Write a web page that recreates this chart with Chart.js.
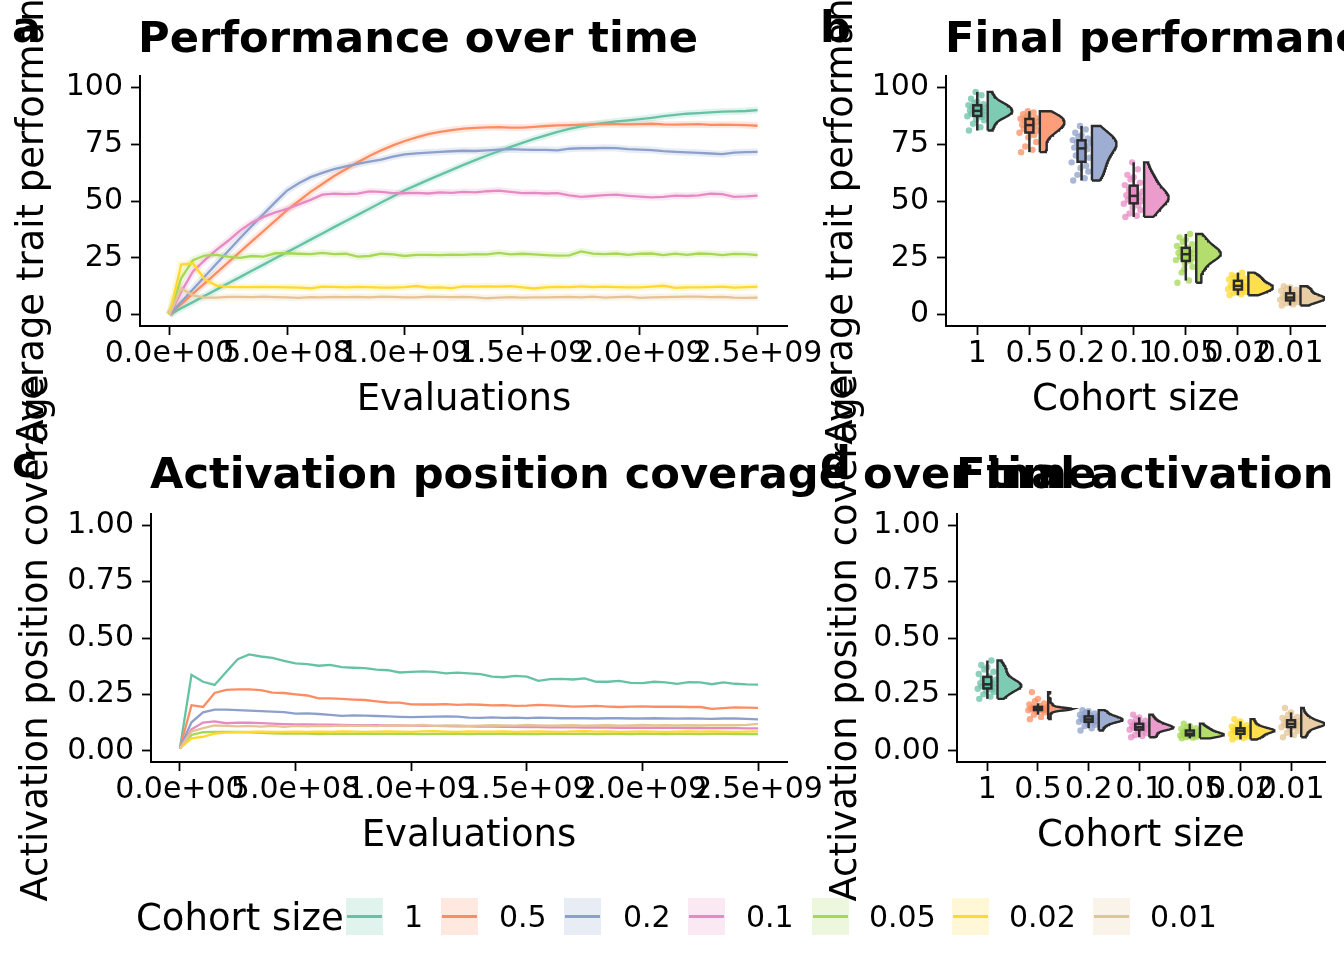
<!DOCTYPE html>
<html><head><meta charset="utf-8">
<script src="https://cdn.jsdelivr.net/npm/chart.js@4.4.1/dist/chart.umd.min.js"></script>
<style>
html,body{margin:0;padding:0;background:#fff;}
#wrap{position:relative;width:1344px;height:960px;overflow:hidden;background:#fff;font-family:'DejaVu Sans',sans-serif;}
canvas{position:absolute;left:0;top:0;}
.t{position:absolute;white-space:nowrap;line-height:1;color:#000;}
.tag{font-size:43.2px;font-weight:bold;}
.ttl{font-size:43.2px;font-weight:bold;}
.ax{font-size:37px;transform:translateX(-50%);}
.yt{font-size:37px;transform:translate(-50%,-50%) rotate(-90deg);}
.key{position:absolute;top:898px;width:37px;height:37px;}
.key i{position:absolute;left:1px;right:1px;top:17px;height:3px;display:block;}
.lab{font-size:30px;top:902px;}
</style></head>
<body><div id="wrap">
<canvas id="ca" width="1344" height="960"></canvas>
<canvas id="cb" width="1344" height="960"></canvas>
<canvas id="cc" width="1344" height="960"></canvas>
<canvas id="cd" width="1344" height="960"></canvas>

<div class="t yt" style="left:30px;top:200px;">Average trait performance</div>
<div class="t yt" style="left:839px;top:200px;">Average trait performance</div>
<div class="t yt" style="left:33.5px;top:638px;">Activation position coverage</div>
<div class="t yt" style="left:842.5px;top:638px;">Activation position coverage</div>

<div class="t ttl" style="left:138px;top:15.5px;">Performance over time</div>
<div class="t ttl" style="left:945px;top:15.5px;">Final performance</div>
<div class="t ttl" style="left:150px;top:451.5px;">Activation position coverage over time</div>
<div class="t ttl" style="left:956px;top:451.5px;">Final activation position coverage</div>

<div class="t tag" style="left:12px;top:5.5px;">a</div>
<div class="t tag" style="left:820px;top:5.5px;">b</div>
<div class="t tag" style="left:12px;top:440.5px;">c</div>
<div class="t tag" style="left:820px;top:440.5px;">d</div>

<div class="t ax" style="left:464px;top:379px;">Evaluations</div>
<div class="t ax" style="left:1136px;top:379px;">Cohort size</div>
<div class="t ax" style="left:469px;top:815px;">Evaluations</div>
<div class="t ax" style="left:1141px;top:815px;">Cohort size</div>

<div id="legend"></div>
</div>
<script>
// ---------------- DATA ----------------
const cohortSizes = ['1','0.5','0.2','0.1','0.05','0.02','0.01'];
const COLORS = ['#66C2A5','#FC8D62','#8DA0CB','#E78AC3','#A6D854','#FFD92F','#E5C494'];

const evaluations = [0,5e7,1e8,1.5e8,2e8,2.5e8,3e8,3.5e8,4e8,4.5e8,5e8,5.5e8,6e8,6.5e8,7e8,7.5e8,8e8,8.5e8,9e8,9.5e8,
  1e9,1.05e9,1.1e9,1.15e9,1.2e9,1.25e9,1.3e9,1.35e9,1.4e9,1.45e9,1.5e9,1.55e9,1.6e9,1.65e9,1.7e9,1.75e9,1.8e9,1.85e9,1.9e9,1.95e9,
  2e9,2.05e9,2.1e9,2.15e9,2.2e9,2.25e9,2.3e9,2.35e9,2.4e9,2.45e9,2.5e9];

const evalTickValues = [0,5e8,1e9,1.5e9,2e9,2.5e9];
const evalTickLabels = ['0.0e+00','5.0e+08','1.0e+09','1.5e+09','2.0e+09','2.5e+09'];
const perfTickValues = [0,25,50,75,100];
const perfTickLabels = ['0','25','50','75','100'];
const covTickValues = [0,0.25,0.5,0.75,1];
const covTickLabels = ['0.00','0.25','0.50','0.75','1.00'];

// Panel a: average trait performance over time
const perf_1 = [0,2.8,5.5,8.3,11,13.8,16.5,19.3,22,24.8,27.5,30.2,33,35.7,38.5,41.2,43.9,46.6,49.3,52,54.7,57,59.3,61.5,63.7,65.9,68,70,71.9,73.8,75.6,77.3,78.9,80.4,81.7,82.8,83.7,84.4,85,85.5,86,86.6,87.3,87.9,88.4,88.7,89,89.3,89.4,89.6,90];
const perf_05 = [0,4.6,9.2,13.8,18.4,23,27.6,32.2,36.8,41.4,46,50,54,57.5,61,64,67,69.8,72.3,74.5,76.4,78,79.4,80.4,81.2,81.8,82.2,82.4,82.5,82.3,82.3,82.6,83,83.3,83.4,83.6,83.7,83.9,83.8,83.7,83.8,84,83.7,83.6,83.7,83.8,83.5,83.6,83.5,83.4,83.1];
const perf_02 = [0,5.6,11.2,16.8,22.4,28,33.6,39,44.3,49.5,54.6,57.8,60.5,62.4,64,65.2,66.3,67.3,68.2,69.5,70.5,71,71.3,71.6,71.9,72.1,72,72.3,72.6,72.8,72.6,72.5,72.5,72.3,73,73.2,73.2,73.4,73.3,72.8,72.6,72.4,71.9,71.6,71.4,71.2,70.9,70.6,71.3,71.5,71.6];
const perf_01 = [0,10,19,24,28.5,32.5,37,40.5,43,45,46.5,48.5,50.5,52.8,53.2,53,53.2,54.2,54,53.5,53.4,53.6,53.3,53.8,53.6,54,53.8,54.3,54.6,54,53.5,53.6,53.3,53.5,52.5,51.8,52.2,52.6,52.8,52.3,51.9,51.6,51.8,52.4,52.2,52.5,53.2,53,51.8,52,52.4];
const perf_005 = [0,16,24,26,26.3,25.5,25,25.8,25.5,27,27,26.8,26.6,27.2,26.6,26.8,25.5,25.8,26.8,26.5,25.8,26.3,26.3,26.2,26.4,26.3,26.6,26.5,27.2,26.5,26.8,26.5,26.2,26,26.1,27.8,26.8,26.6,26.9,26.3,26.8,26.9,26.2,26.8,26.3,26.9,26.7,26.2,26.7,26.6,26.2];
const perf_002 = [0,22,22.6,15.5,12.8,12.2,12.1,12.1,12.2,12.1,12,11.9,11.6,12.3,12.2,12,12.2,12.1,11.9,11.9,12.1,12.6,11.9,12,11.7,12.4,12.3,12.4,12.3,12.5,12,11.5,12,12.2,12.1,12.4,12.1,12.3,12.1,12,12,12.3,12.7,11.8,12,12,12.1,12.3,11.9,12.1,12.3];
const perf_001 = [0,11.5,8.5,7.5,7.5,7.8,7.8,7.7,7.9,7.7,7.6,7.4,7.7,7.6,7.8,7.7,7.8,7.6,7.9,7.8,7.6,7.6,7.9,7.8,7.7,7.8,7.6,7.2,7.5,7.7,7.5,7.6,7.6,7.7,7.8,7.6,7.9,7.5,7.7,7.9,7.4,7.6,7.7,7.8,7.9,7.9,7.7,7.8,7.5,7.4,7.5];

// Panel c: activation position coverage over time
const cov_1 = [0.01,0.337,0.306,0.292,0.349,0.406,0.427,0.418,0.412,0.399,0.387,0.384,0.377,0.381,0.371,0.368,0.366,0.360,0.357,0.347,0.350,0.352,0.350,0.343,0.346,0.343,0.340,0.329,0.326,0.332,0.329,0.310,0.318,0.319,0.316,0.321,0.306,0.306,0.310,0.301,0.300,0.306,0.303,0.297,0.304,0.303,0.295,0.303,0.297,0.294,0.293];
const cov_05 = [0.01,0.202,0.194,0.256,0.270,0.272,0.272,0.269,0.258,0.256,0.250,0.245,0.232,0.232,0.230,0.227,0.225,0.219,0.214,0.213,0.206,0.205,0.205,0.207,0.203,0.206,0.204,0.201,0.202,0.199,0.200,0.203,0.201,0.199,0.196,0.197,0.199,0.196,0.194,0.196,0.197,0.195,0.195,0.195,0.194,0.194,0.186,0.189,0.192,0.191,0.190];
const cov_02 = [0.01,0.126,0.170,0.182,0.182,0.180,0.178,0.176,0.173,0.171,0.165,0.166,0.163,0.159,0.155,0.157,0.156,0.154,0.152,0.150,0.149,0.150,0.151,0.152,0.151,0.147,0.146,0.148,0.146,0.147,0.145,0.147,0.146,0.144,0.144,0.144,0.143,0.144,0.144,0.143,0.143,0.144,0.143,0.142,0.143,0.142,0.141,0.143,0.143,0.141,0.139];
const cov_01 = [0.01,0.095,0.125,0.130,0.122,0.125,0.124,0.122,0.120,0.118,0.117,0.117,0.116,0.116,0.115,0.114,0.113,0.113,0.112,0.112,0.111,0.110,0.110,0.109,0.108,0.108,0.107,0.107,0.106,0.106,0.105,0.105,0.104,0.104,0.104,0.103,0.103,0.103,0.102,0.102,0.102,0.101,0.101,0.101,0.100,0.101,0.100,0.100,0.100,0.099,0.099];
const cov_005 = [0.01,0.070,0.082,0.084,0.084,0.083,0.082,0.079,0.077,0.076,0.077,0.076,0.074,0.075,0.076,0.075,0.076,0.075,0.075,0.076,0.075,0.074,0.075,0.076,0.075,0.074,0.075,0.075,0.076,0.074,0.075,0.074,0.076,0.075,0.075,0.076,0.074,0.075,0.075,0.074,0.076,0.075,0.074,0.075,0.075,0.074,0.075,0.076,0.074,0.074,0.074];
const cov_002 = [0.01,0.055,0.062,0.076,0.080,0.082,0.084,0.085,0.083,0.084,0.085,0.084,0.085,0.083,0.086,0.085,0.084,0.085,0.086,0.085,0.084,0.086,0.087,0.085,0.084,0.086,0.085,0.085,0.086,0.084,0.085,0.086,0.085,0.084,0.086,0.087,0.085,0.086,0.084,0.085,0.086,0.085,0.084,0.085,0.086,0.085,0.086,0.085,0.084,0.085,0.086];
const cov_001 = [0.01,0.085,0.100,0.112,0.110,0.108,0.110,0.107,0.110,0.106,0.110,0.108,0.110,0.109,0.111,0.110,0.111,0.109,0.112,0.111,0.111,0.114,0.110,0.112,0.112,0.110,0.111,0.113,0.112,0.111,0.114,0.112,0.111,0.112,0.113,0.111,0.112,0.113,0.111,0.112,0.114,0.112,0.113,0.112,0.113,0.112,0.114,0.113,0.113,0.115,0.119];

// Panel b: final performance per run
const finalPerf_1 = [81,82.5,84,85.5,86,87,87.3,87.8,88,88.4,88.8,89.2,89.5,89.8,90.2,90.5,91,91.4,91.8,92.2,92.6,93,93.8,95,96.5,98];
const finalPerf_05 = [71.5,72.5,74,76,78,79,80,80.5,81,81.8,82.3,82.8,83.2,83.6,84,84.5,85,85.4,85.8,86.2,86.6,87,87.5,88.2,89,89.5];
const finalPerf_02 = [59,60,61.5,63,64.5,65.5,67,68,69,70,71,72,72.8,73.5,74.2,74.8,75.3,75.8,76.3,76.8,77.5,78.2,79,80,81.5,83];
const finalPerf_01 = [43,43.5,44.5,46,47,48,48.8,49.5,50,50.5,51,51.5,52,52.5,53,53.6,54.2,55,56,57,58,59.5,60.5,61.5,64,67];
const finalPerf_005 = [14,15,18.5,21,22.5,23.5,24,24.6,25,25.5,26,26.4,26.8,27.2,27.6,28,28.5,29,29.5,30.2,31,32,33,34,35.5,20];
const finalPerf_002 = [8.5,9,9.5,10,10.5,11,11.2,11.5,11.8,12,12.2,12.5,12.8,13,13.3,13.6,14,14.5,15,15.5,16,16.5,17,17.5,18.5,10.2];
const finalPerf_001 = [4,4.5,5,5.5,6,6.2,6.5,6.8,7,7.2,7.4,7.6,7.8,8,8.3,8.6,9,9.5,10,10.5,11,11.5,12,12.5,5.8,7.1];

// Panel d: final activation position coverage per run
const finalCov_1 = [0.23,0.24,0.25,0.26,0.265,0.27,0.275,0.28,0.283,0.286,0.29,0.293,0.296,0.30,0.305,0.31,0.315,0.32,0.33,0.34,0.35,0.36,0.37,0.38,0.40,0.288];
const finalCov_05 = [0.14,0.15,0.16,0.17,0.175,0.178,0.18,0.182,0.183,0.184,0.185,0.185,0.186,0.187,0.188,0.19,0.192,0.195,0.2,0.205,0.21,0.22,0.23,0.26,0.184,0.186];
const finalCov_02 = [0.09,0.1,0.11,0.115,0.12,0.125,0.128,0.13,0.133,0.136,0.138,0.14,0.142,0.144,0.146,0.148,0.15,0.153,0.156,0.16,0.165,0.17,0.175,0.18,0.135,0.131];
const finalCov_01 = [0.06,0.065,0.07,0.078,0.085,0.09,0.093,0.096,0.099,0.101,0.103,0.105,0.107,0.109,0.111,0.114,0.117,0.12,0.124,0.128,0.133,0.14,0.148,0.16,0.1,0.098];
const finalCov_005 = [0.055,0.058,0.06,0.062,0.064,0.066,0.068,0.07,0.072,0.073,0.075,0.076,0.078,0.08,0.082,0.085,0.088,0.09,0.093,0.097,0.1,0.105,0.11,0.12,0.071,0.069];
const finalCov_002 = [0.05,0.055,0.06,0.063,0.067,0.07,0.074,0.078,0.08,0.083,0.085,0.087,0.089,0.091,0.093,0.095,0.098,0.1,0.104,0.108,0.113,0.12,0.13,0.14,0.088,0.09];
const finalCov_001 = [0.06,0.07,0.08,0.088,0.095,0.1,0.104,0.108,0.111,0.114,0.116,0.118,0.12,0.122,0.125,0.128,0.132,0.136,0.14,0.145,0.15,0.16,0.17,0.19,0.117,0.12];

// ---------------- STYLE HELPERS ----------------
const JIT = [-0.16,0.06,-0.08,0.13,-0.02,0.09,-0.19,0.01,0.15,-0.11,0.04,-0.05,0.11,-0.14,0.07,-0.01,0.17,-0.09,0.03,-0.17,0.12,-0.06,0.0,-0.12,0.08,-0.03];
const FONT = 'DejaVu Sans';
function hexA(h,a){const n=parseInt(h.slice(1),16);return `rgba(${n>>16&255},${n>>8&255},${n&255},${a})`;}

function axis(min,max,vals,labels,fit,horizontal){
  return {
    type:'linear',min,max,
    afterBuildTicks:s=>{s.ticks=vals.map(v=>({value:v}));},
    afterFit:s=>{ if(horizontal) s.height=fit; else s.width=fit; },
    ticks:{autoSkip:false,maxRotation:0,minRotation:0,padding:horizontal?1:8,color:'#000',
      font:{family:FONT,size:30},callback:(v,i)=>labels[i]},
    grid:{display:true,drawOnChartArea:false,drawTicks:true,tickLength:9,color:'#000',tickColor:'#000',tickWidth:1.8},
    border:{display:true,color:'#000',width:2}
  };
}
function baseOptions(pad,x,y){
  return {responsive:false,animation:false,events:[],
    layout:{padding:pad},
    plugins:{legend:{display:false},tooltip:{enabled:false}},
    scales:{x,y}};
}

function lineChart(id,series,pad,xMin,xMax,yMin,yMax,yVals,yLabels,yW,ribbon){
  const datasets=[];
  series.forEach((s,k)=>{
    const pts=evaluations.map((x,i)=>({x,y:s[i]}));
    if(ribbon) datasets.push({data:pts,borderColor:hexA(COLORS[k],0.2),borderWidth:7,pointRadius:0,tension:0,order:100});
    datasets.push({data:pts,borderColor:COLORS[k],borderWidth:2.3,pointRadius:0,tension:0,order:7-k});
  });
  new Chart(document.getElementById(id),{type:'line',data:{datasets},
    options:baseOptions(pad,axis(xMin,xMax,evalTickValues,evalTickLabels,60,true),axis(yMin,yMax,yVals,yLabels,yW,false))});
}

function quant(s,p){const h=(s.length-1)*p,lo=Math.floor(h);const hi=Math.min(lo+1,s.length-1);return s[lo]+(h-lo)*(s[hi]-s[lo]);}
function boxStats(vals){
  const s=[...vals].sort((a,b)=>a-b);
  const q1=quant(s,.25),q3=quant(s,.75),med=quant(s,.5),iqr=q3-q1;
  const lo=s.find(v=>v>=q1-1.5*iqr), hi=[...s].reverse().find(v=>v<=q3+1.5*iqr);
  return {q1,q3,med,lo,hi};
}
function violinShape(vals,base,width){
  const s=[...vals].sort((a,b)=>a-b),n=s.length;
  const mean=s.reduce((a,b)=>a+b,0)/n;
  const sd=Math.sqrt(s.reduce((a,b)=>a+(b-mean)*(b-mean),0)/(n-1));
  const iqr=quant(s,.75)-quant(s,.25);
  const bw=0.9*Math.min(sd,iqr/1.34)*Math.pow(n,-0.2);
  const lo=s[0],hi=s[n-1],G=60;
  const ys=[],ds=[];
  for(let i=0;i<G;i++){const y=lo+(hi-lo)*i/(G-1);let d=0;for(const v of s){const z=(y-v)/bw;d+=Math.exp(-0.5*z*z);}ys.push(y);ds.push(d);}
  const mx=Math.max(...ds);
  const pts=[{x:base,y:lo}];
  ys.forEach((y,i)=>pts.push({x:base+width*ds[i]/mx,y}));
  pts.push({x:base,y:hi});pts.push({x:base,y:lo});
  return pts;
}
function boxPlugin(boxes){
  return {id:'boxes',afterDatasetsDraw(chart){
    const {ctx,scales:{x,y}}=chart;
    ctx.save();
    boxes.forEach(b=>{
      const cx=x.getPixelForValue(b.c),w=8;
      ctx.strokeStyle='#2b2b2b';ctx.lineWidth=2.5;
      ctx.beginPath();ctx.moveTo(cx,y.getPixelForValue(b.lo));ctx.lineTo(cx,y.getPixelForValue(b.hi));ctx.stroke();
      const t=y.getPixelForValue(b.q3),bt=y.getPixelForValue(b.q1);
      ctx.fillStyle=b.color;
      ctx.fillRect(cx-w/2,t,w,bt-t);
      ctx.strokeRect(cx-w/2,t,w,bt-t);
      const m=y.getPixelForValue(b.med);
      ctx.beginPath();ctx.moveTo(cx-w/2,m);ctx.lineTo(cx+w/2,m);ctx.stroke();
    });
    ctx.restore();
  }};
}
function rainChart(id,groups,pad,yMin,yMax,yVals,yLabels,yW){
  const datasets=[],boxes=[];
  groups.forEach((vals,k)=>{
    const c=k+1;
    datasets.push({data:vals.map((v,j)=>({x:c+JIT[j%JIT.length],y:v})),showLine:false,pointRadius:3.2,
      pointBackgroundColor:hexA(COLORS[k],0.75),pointBorderWidth:0,order:20});
    datasets.push({data:violinShape(vals,c+0.2,0.47),showLine:true,fill:'shape',backgroundColor:hexA(COLORS[k],0.85),
      borderColor:'#2b2b2b',borderWidth:2.4,pointRadius:0,tension:0,order:10});
    boxes.push(Object.assign({c,color:COLORS[k]},boxStats(vals)));
  });
  new Chart(document.getElementById(id),{type:'line',data:{datasets},
    options:baseOptions(pad,axis(0.4,7.67,[1,2,3,4,5,6,7],cohortSizes,60,true),axis(yMin,yMax,yVals,yLabels,yW,false)),
    plugins:[boxPlugin(boxes)]});
}

// ---------------- CHARTS ----------------
lineChart('ca',[perf_1,perf_05,perf_02,perf_01,perf_005,perf_002,perf_001],
  {left:0,top:76,right:557,bottom:574},-1.25e8,2.625e9,-5,105,perfTickValues,perfTickLabels,140,true);
lineChart('cc',[cov_1,cov_05,cov_02,cov_01,cov_005,cov_002,cov_001],
  {left:0,top:514,right:557,bottom:138},-1.25e8,2.625e9,-0.05,1.05,covTickValues,covTickLabels,151,false);
rainChart('cb',[finalPerf_1,finalPerf_05,finalPerf_02,finalPerf_01,finalPerf_005,finalPerf_002,finalPerf_001],
  {left:800,top:76,right:19,bottom:574},-5,105,perfTickValues,perfTickLabels,146);
rainChart('cd',[finalCov_1,finalCov_05,finalCov_02,finalCov_01,finalCov_005,finalCov_002,finalCov_001],
  {left:800,top:514,right:19,bottom:138},-0.05,1.05,covTickValues,covTickLabels,157);

// ---------------- LEGEND ----------------
const keyLefts=[346,441,564,688,812,952,1093];
const labLefts=[404,499,623,746,869,1009,1150];
const lg=document.getElementById('legend');
let html='<div class="t" style="left:136px;top:899px;font-size:37px;">Cohort size</div>';
cohortSizes.forEach((c,k)=>{
  html+=`<div class="key" style="left:${keyLefts[k]}px;background:${hexA(COLORS[k],0.2)}"><i style="background:${COLORS[k]}"></i></div>`;
  html+=`<div class="t lab" style="left:${labLefts[k]}px;">${c}</div>`;
});
lg.innerHTML=html;
</script>
</body></html>
